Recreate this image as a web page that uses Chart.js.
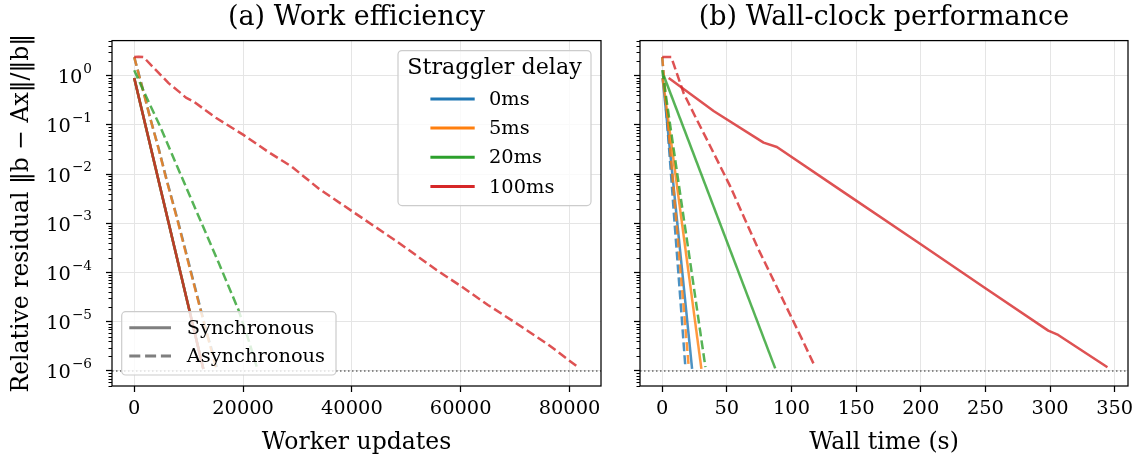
<!DOCTYPE html>
<html><head><meta charset="utf-8">
<script src="https://cdn.jsdelivr.net/npm/chart.js@4.4.0/dist/chart.umd.min.js"></script>
<style>
html,body{margin:0;padding:0;background:#fff;}
#wrap{position:relative;width:1144px;height:459px;overflow:hidden;}
#c1{position:absolute;left:0;top:0;}
#c2{position:absolute;left:620px;top:0;}
</style></head><body>
<div id="wrap"><canvas id="c1" width="620" height="459"></canvas><canvas id="c2" width="524" height="459"></canvas></div>
<script>
// ---------- data ----------
const delayLabels = ['0ms', '5ms', '20ms', '100ms'];
const styleLabels = ['Synchronous', 'Asynchronous'];
const legendTitle = 'Straggler delay';
const titles = ['(a) Work efficiency', '(b) Wall-clock performance'];
const xTitles = ['Worker updates', 'Wall time (s)'];
const yTitle = 'Relative residual ‖b − Ax‖/‖b‖';

const xTicksWork = [0, 20000, 40000, 60000, 80000];
const xTicksTime = [0, 50, 100, 150, 200, 250, 300, 350];
const yTickValues = [1e-6, 1e-5, 1e-4, 1e-3, 1e-2, 1e-1, 1];
const yTickBase = '10';
const yTickExponents = ['−6', '−5', '−4', '−3', '−2', '−1', '0'];
const threshold = 1e-6;

// (a) worker updates
const syncWorkX = [0, 12700];
const syncWorkY = [0.9, 1.1e-6];
const asyncWork0X = [0, 1500, 3000, 4500, 6000, 8000, 10000, 12000, 13500, 15200];
const asyncWork0Y = [2.4, 0.58, 0.13, 0.033, 7.4e-3, 1.15e-3, 1.6e-4, 2.2e-5, 5.2e-6, 1.2e-6];
const asyncWork5X = [0, 1500, 3000, 4500, 6000, 8000, 10000, 12000, 13500, 15000];
const asyncWork5Y = [2.4, 0.56, 0.13, 0.032, 7.2e-3, 1.1e-3, 1.5e-4, 2.1e-5, 5.0e-6, 1.2e-6];
const asyncWork20X = [0, 2000, 4790, 8000, 12130, 15500, 19160, 21000, 22530];
const asyncWork20Y = [1.3, 0.42, 0.092, 0.0135, 1.17e-3, 1.6e-4, 1.74e-5, 4.3e-6, 1.2e-6];
const asyncWork100X = [0, 800, 1700, 4000, 6310, 8500, 9500, 10900, 15000, 20070, 24500, 28950, 34000, 40260, 48000, 55560, 60150, 65000, 70240, 76000, 81540];
const asyncWork100Y = [2.4, 2.45, 2.4, 1.3, 0.71, 0.45, 0.36, 0.30, 0.14, 0.063, 0.029, 0.0142, 5.0e-3, 1.7e-3, 4.5e-4, 1.13e-4, 5.2e-5, 2.2e-5, 9.3e-6, 3.5e-6, 1.2e-6];

// (b) wall time
const syncTime0X = [0.3, 23.1];
const syncTime0Y = [0.9, 1.1e-6];
const syncTime5X = [0.3, 30.3];
const syncTime5Y = [0.9, 1.1e-6];
const syncTime20X = [1.2, 87.4];
const syncTime20Y = [1.0, 1.13e-6];
const syncTime100X = [5, 40, 78.4, 88.7, 137.7, 200, 250, 298.6, 306.3, 344.4];
const syncTime100Y = [0.9, 0.19, 0.0437, 0.0357, 4.8e-3, 3.75e-4, 4.8e-5, 6.6e-6, 5.4e-6, 1.19e-6];
const asyncTime0X = [0, 3, 6, 9, 12, 15, 17.9];
const asyncTime0Y = [2.4, 0.21, 0.019, 1.6e-3, 1.45e-4, 1.3e-5, 1.2e-6];
const asyncTime5X = [0, 3, 6, 9, 12, 15, 18, 20.5];
const asyncTime5Y = [2.4, 0.29, 0.035, 4.2e-3, 5.0e-4, 5.9e-5, 7.1e-6, 1.2e-6];
const asyncTime20X = [0, 5, 10, 15, 20, 25, 30, 33.4];
const asyncTime20Y = [1.3, 0.16, 0.02, 2.5e-3, 3.2e-4, 4.0e-5, 4.9e-6, 1.2e-6];
const asyncTime100X = [0, 7, 16.6, 26, 35.9, 52.7, 64, 74.6, 88, 101.6, 110, 118.3];
const asyncTime100Y = [2.4, 2.4, 0.44, 0.14, 0.043, 5.6e-3, 1.2e-3, 2.9e-4, 5.5e-5, 1.0e-5, 3.5e-6, 1.2e-6];

// axis limits (matplotlib-like 5% margins)
const workLim = [-4085, 85785];
const timeLim = [-17.2, 360.3];
const yLim = [4.95e-7, 5.19];

// ---------- styling ----------
const FONT = "'DejaVu Serif', serif";
const colors = ['#1f77b4', '#ff7f0e', '#2ca02c', '#d62728'];
function alpha(hex, a) {
  const n = parseInt(hex.slice(1), 16);
  return `rgba(${(n >> 16) & 255},${(n >> 8) & 255},${n & 255},${a})`;
}
const LW = 2.5;
const DASH = [9, 4];

function pts(xs, ys) { return xs.map((x, i) => ({ x, y: ys[i] })); }
function series(xs, ys, ci, dashed) {
  return {
    data: pts(xs, ys), borderColor: alpha(colors[ci], 0.8), borderWidth: LW,
    borderDash: dashed ? DASH : [], pointRadius: 0, tension: 0, fill: false,
    borderCapStyle: 'butt', borderJoinStyle: 'round'
  };
}
function thresholdSet(lim) {
  return {
    data: [{ x: lim[0], y: threshold }, { x: lim[1], y: threshold }],
    borderColor: 'rgba(60,60,60,0.75)', borderWidth: 1.3, borderDash: [1.5, 2.5],
    pointRadius: 0, fill: false
  };
}

const decorPlugin = {
  id: 'decor',
  afterDraw(chart) {
    const { ctx, chartArea: a } = chart;
    const y = chart.scales.y;
    const opts = chart.options.plugins.decor || {};
    ctx.save();
    ctx.strokeStyle = '#000';
    ctx.lineWidth = 1;
    for (let k = -7; k <= 1; k++) {
      for (let m = 2; m <= 9; m++) {
        const v = m * Math.pow(10, k);
        if (v < y.min || v > y.max) continue;
        const py = Math.round(y.getPixelForValue(v)) + 0.5;
        ctx.beginPath(); ctx.moveTo(a.left - 3.5, py); ctx.lineTo(a.left, py); ctx.stroke();
      }
    }
    // y tick labels with real superscripts (left panel)
    if (opts.yLabels) {
      ctx.fillStyle = '#000';
      ctx.textBaseline = 'alphabetic';
      ctx.textAlign = 'left';
      const right = a.left - 20;
      yTickValues.forEach((v, i) => {
        const py = y.getPixelForValue(v);
        ctx.font = `13.6px ${FONT}`;
        const ew = ctx.measureText(yTickExponents[i]).width;
        ctx.font = `19.4px ${FONT}`;
        const bw = ctx.measureText(yTickBase).width;
        const x0 = right - ew - bw - 1;
        ctx.fillText(yTickBase, x0, py + 7.5);
        ctx.font = `13.6px ${FONT}`;
        ctx.fillText(yTickExponents[i], x0 + bw + 1, py - 3);
      });
    }
    // legends (left panel only)
    if (opts.legends) {
      ctx.setLineDash([]);
      let w = 193, h = 155, lx = a.right - 10 - w, ly = a.top + 10;
      ctx.beginPath(); ctx.roundRect(lx, ly, w, h, 4);
      ctx.fillStyle = 'rgba(255,255,255,0.8)'; ctx.fill();
      ctx.strokeStyle = '#cccccc'; ctx.lineWidth = 1.2; ctx.stroke();
      ctx.fillStyle = '#000'; ctx.textBaseline = 'middle';
      ctx.font = `22.2px ${FONT}`; ctx.textAlign = 'center';
      ctx.fillText(legendTitle, lx + w / 2, ly + 18);
      ctx.font = `19.4px ${FONT}`; ctx.textAlign = 'left';
      delayLabels.forEach((lab, i) => {
        const yy = ly + 48.3 + i * 29.2;
        ctx.strokeStyle = colors[i]; ctx.lineWidth = 3;
        ctx.beginPath(); ctx.moveTo(lx + 32.4, yy); ctx.lineTo(lx + 76.7, yy); ctx.stroke();
        ctx.fillStyle = '#000'; ctx.fillText(lab, lx + 91, yy + 1);
      });
      w = 214.3; h = 63.3; lx = a.left + 9.7; ly = a.bottom - 11 - h;
      ctx.beginPath(); ctx.roundRect(lx, ly, w, h, 4);
      ctx.fillStyle = 'rgba(255,255,255,0.8)'; ctx.fill();
      ctx.strokeStyle = '#cccccc'; ctx.lineWidth = 1.2; ctx.stroke();
      styleLabels.forEach((lab, i) => {
        const yy = ly + 16 + i * 28.3;
        ctx.strokeStyle = '#7f7f7f'; ctx.lineWidth = 3;
        ctx.setLineDash(i === 1 ? [11, 4.8] : []);
        ctx.beginPath(); ctx.moveTo(lx + 7.6, yy); ctx.lineTo(lx + 49.3, yy); ctx.stroke();
        ctx.setLineDash([]);
        ctx.fillStyle = '#000'; ctx.fillText(lab, lx + 65, yy + 1);
      });
    }
    ctx.strokeStyle = '#000'; ctx.lineWidth = 1.25; ctx.setLineDash([]);
    ctx.strokeRect(a.left, a.top, a.right - a.left, a.bottom - a.top);
    ctx.restore();
  }
};

function makeOptions(idx, xLim, xTicks, yAxisWidth, padRight, legends) {
  return {
    responsive: false, animation: false, devicePixelRatio: 1,
    layout: { padding: { left: 0, right: padRight, top: 0, bottom: 0 } },
    plugins: {
      legend: { display: false }, tooltip: { enabled: false },
      title: { display: true, text: titles[idx], fullSize: false, color: '#000',
        font: { family: FONT, size: 27, weight: 'normal', lineHeight: 1.2 }, padding: { top: 2, bottom: 6.2 } },
      decor: { legends, yLabels: idx === 0 }
    },
    scales: {
      x: {
        type: 'linear', min: xLim[0], max: xLim[1],
        afterBuildTicks: s => { s.ticks = xTicks.map(v => ({ value: v })); },
        afterFit: s => { s.height = 73; },
        ticks: { color: '#000', font: { family: FONT, size: 19.4 }, padding: 5, maxRotation: 0, autoSkip: false,
          callback: v => String(v) },
        grid: { color: '#e5e5e5', lineWidth: 1, tickColor: '#000', tickLength: 6, tickWidth: 1.25, drawTicks: true },
        border: { display: false },
        title: { display: true, text: xTitles[idx], color: '#000', font: { family: FONT, size: 23.5 }, padding: { top: 0, bottom: 2 } }
      },
      y: {
        type: 'logarithmic', min: yLim[0], max: yLim[1],
        afterBuildTicks: s => { s.ticks = yTickValues.map(v => ({ value: v })); },
        afterFit: s => { s.width = yAxisWidth; },
        ticks: { color: '#000', font: { family: FONT, size: 19.4 }, padding: 8, autoSkip: false,
          callback: () => '' },
        grid: { color: '#e5e5e5', lineWidth: 1, tickColor: '#000', tickLength: 6, tickWidth: 1.25, drawTicks: true },
        border: { display: false },
        title: { display: idx === 0, text: yTitle, color: '#000', font: { family: FONT, size: 23.5 }, padding: { top: 8, bottom: 0 } }
      }
    }
  };
}

const workSets = [
  series(syncWorkX, syncWorkY, 0, false), series(asyncWork0X, asyncWork0Y, 0, true),
  series(syncWorkX, syncWorkY, 1, false), series(asyncWork5X, asyncWork5Y, 1, true),
  series(syncWorkX, syncWorkY, 2, false), series(asyncWork20X, asyncWork20Y, 2, true),
  series(syncWorkX, syncWorkY, 3, false), series(asyncWork100X, asyncWork100Y, 3, true),
  thresholdSet(workLim)
].reverse();
const timeSets = [
  series(syncTime0X, syncTime0Y, 0, false), series(asyncTime0X, asyncTime0Y, 0, true),
  series(syncTime5X, syncTime5Y, 1, false), series(asyncTime5X, asyncTime5Y, 1, true),
  series(syncTime20X, syncTime20Y, 2, false), series(asyncTime20X, asyncTime20Y, 2, true),
  series(syncTime100X, syncTime100Y, 3, false), series(asyncTime100X, asyncTime100Y, 3, true),
  thresholdSet(timeLim)
].reverse();

new Chart(document.getElementById('c1'), {
  type: 'line', data: { datasets: workSets },
  options: makeOptions(0, workLim, xTicksWork, 112, 19, true), plugins: [decorPlugin]
});
new Chart(document.getElementById('c2'), {
  type: 'line', data: { datasets: timeSets },
  options: makeOptions(1, timeLim, xTicksTime, 20, 16, false), plugins: [decorPlugin]
});
</script>
</body></html>
